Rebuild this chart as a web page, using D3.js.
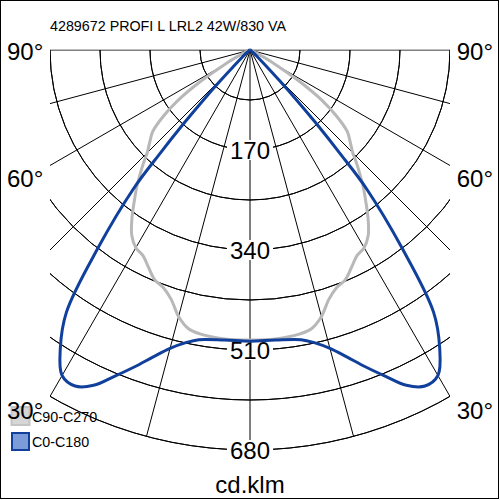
<!DOCTYPE html>
<html>
<head>
<meta charset="utf-8">
<script src="https://cdn.jsdelivr.net/npm/d3@7"></script>
<style>
  html, body { margin: 0; padding: 0; background: #fff; }
  svg { display: block; }
  text { font-family: "Liberation Sans", Arial, sans-serif; }
</style>
</head>
<body>
<svg id="chart" width="500" height="500"></svg>
<script>
// ---------- data ----------
const title = "4289672 PROFI L LRL2 42W/830 VA";
const unitLabel = "cd.klm";
const gammaAngles = [0, 5, 10, 12.5, 15, 17.5, 20, 22.5, 25, 27.5, 30, 32.5, 35, 37.5, 40, 41, 42, 43, 44, 45, 47.5, 50, 52.5, 55, 57.5, 60, 62.5, 65, 70, 75, 80, 85, 90];
// C0-C180 plane (cd/klm), symmetric
const c0c180 = [495, 495, 500, 510, 525, 547, 573, 600, 629, 644, 639, 600, 544, 425, 309, 235, 170, 116, 71, 41, 17, 9, 5, 3, 2, 2, 1, 1, 0, 0, 0, 0, 0];
// C90-C270 plane (cd/klm), symmetric
const c90c270 = [493, 493, 490, 485, 469, 445, 430, 423, 408, 394, 388, 374, 350, 323, 298, 287, 277, 267, 257, 247, 231, 216, 187, 150, 102, 54, 27, 14, 5, 3, 2, 1, 0];
const ringValues = [85, 170, 255, 340, 425, 510, 595, 680];
const ringLabels = [170, 340, 510, 680];
const rayAngles = [0, 15, 30, 45, 60, 75, 90];
const angleLabels = ["90°", "60°", "30°"];
const legendNames = ["C90-C270", "C0-C180"];

// ---------- layout ----------
const svg = d3.select("#chart");
const cx = 250, cy = 50;
const r = d3.scaleLinear().domain([0, 680]).range([0, 400]);
const rad = d => d * Math.PI / 180;

svg.append("rect").attr("x", 0.5).attr("y", 0.5).attr("width", 498).attr("height", 498)
  .attr("fill", "#fff").attr("stroke", "#000").attr("stroke-width", 1);

svg.append("defs").append("clipPath").attr("id", "gridclip")
  .append("rect").attr("x", 50).attr("y", 49.5).attr("width", 400).attr("height", 420);

const grid = svg.append("g").attr("clip-path", "url(#gridclip)")
  .append("g").attr("transform", `translate(${cx},${cy})`)
  .attr("fill", "none").attr("stroke", "#000").attr("stroke-width", 1);

const arc = d3.arc().startAngle(Math.PI / 2).endAngle(3 * Math.PI / 2);
grid.selectAll("path.ring").data(ringValues).join("path")
  .attr("class", "ring")
  .attr("d", v => arc({innerRadius: r(v), outerRadius: r(v)}));

// radial lines both sides
const rays = [];
rayAngles.forEach(a => { rays.push(a); if (a !== 0) rays.push(-a); });
grid.selectAll("line.ray").data(rays).join("line")
  .attr("class", "ray")
  .attr("x1", 0).attr("y1", 0)
  .attr("x2", a => r(680) * Math.sin(rad(a)))
  .attr("y2", a => r(680) * Math.cos(rad(a)));

// ring labels
const rl = svg.append("g");
ringLabels.forEach(v => {
  const y = cy + r(v);
  const t = rl.append("text").attr("x", cx).attr("y", y + 8.6)
    .attr("text-anchor", "middle").attr("font-size", 24).text(v);
  const bb = t.node().getBBox();
  rl.insert("rect", "text").attr("x", bb.x - 3).attr("y", y - 10).attr("width", bb.width + 6)
    .attr("height", 20).attr("fill", "#fff");
});

// curves
const toXY = (a, v) => [r(v) * Math.sin(rad(a)), r(v) * Math.cos(rad(a))];
const line = d3.line().curve(d3.curveCatmullRom.alpha(0.5));
function fullCurve(vals) {
  const pts = [];
  for (let i = gammaAngles.length - 1; i >= 0; i--) pts.push(toXY(-gammaAngles[i], vals[i]));
  for (let i = 1; i < gammaAngles.length; i++) pts.push(toXY(gammaAngles[i], vals[i]));
  return pts;
}
const curves = svg.append("g").attr("transform", `translate(${cx},${cy})`).attr("fill", "none")
  .attr("stroke-linejoin", "round");
curves.append("path").attr("d", line(fullCurve(c90c270)))
  .attr("stroke", "#b8b8b8").attr("stroke-width", 3);
curves.append("path").attr("d", line(fullCurve(c0c180)))
  .attr("stroke", "#10409c").attr("stroke-width", 3);

// title
svg.append("text").attr("x", 50).attr("y", 31).attr("font-size", 14.3).attr("fill", "#000").text(title);

// legend
const lg = svg.append("g");
lg.append("rect").attr("x", 11.5).attr("y", 407).attr("width", 18).attr("height", 18)
  .attr("fill", "#d6d6d6").attr("stroke", "#c4c4c4").attr("stroke-width", 2);
lg.append("rect").attr("x", 12).attr("y", 433).attr("width", 17).attr("height", 17)
  .attr("fill", "#7b9cd9").attr("stroke", "#10409c").attr("stroke-width", 2);
lg.append("text").attr("x", 32).attr("y", 421.5).attr("font-size", 14.3).text(legendNames[0]);
lg.append("text").attr("x", 32).attr("y", 446.5).attr("font-size", 14.3).text(legendNames[1]);

// angle labels
const angleY = [60, 187, 419];
angleLabels.forEach((lab, i) => {
  svg.append("text").attr("x", 7).attr("y", angleY[i]).attr("font-size", 24).text(lab);
  svg.append("text").attr("x", 493).attr("y", angleY[i]).attr("text-anchor", "end").attr("font-size", 24).text(lab);
});

// unit label
svg.append("text").attr("x", cx).attr("y", 493).attr("text-anchor", "middle").attr("font-size", 24).text(unitLabel);
</script>
</body>
</html>
